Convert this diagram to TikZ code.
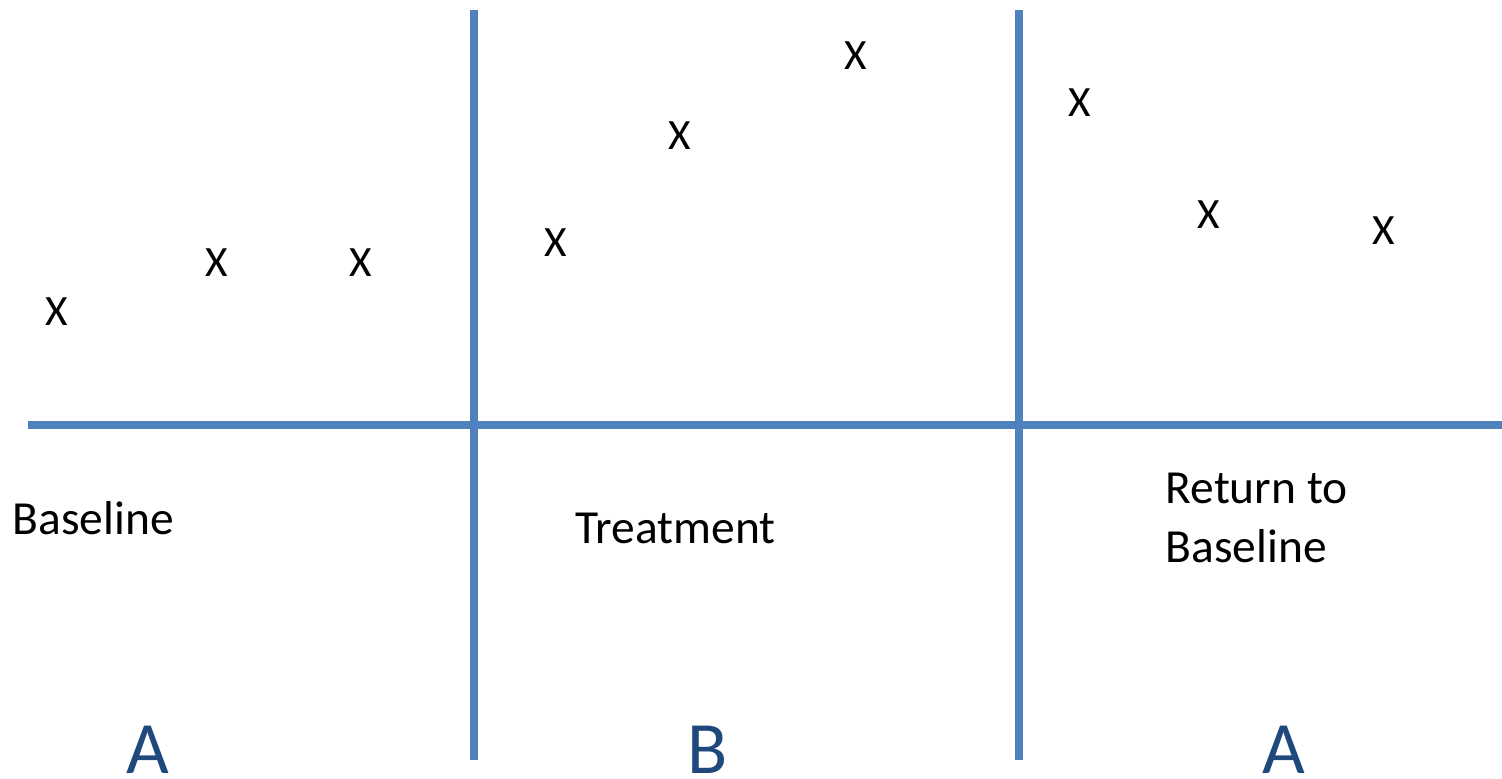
\documentclass[tikz,border=0pt]{standalone}
\usepackage{fontspec}
\setmainfont{Carlito}
\usepackage{tikz}
\usetikzlibrary{positioning}

\definecolor{axisblue}{RGB}{79,129,189}
\definecolor{phaseblue}{RGB}{31,73,125}

\tikzset{
    axis/.style={draw=axisblue, line width=0.08cm},
    point/.style={font=\fontsize{12.3}{14}\selectfont},
    label/.style={font=\fontsize{13.5}{16.5}\selectfont, inner sep=0pt, anchor=base west, align=left},
    phase/.style={font=\fontsize{21}{24}\selectfont, text=phaseblue, inner sep=0pt, anchor=base}
}

\begin{document}
\begin{tikzpicture}[x=0.01cm, y=-0.01cm]
    \useasboundingbox (0,0) rectangle (1502,778);

    % the axes
    \draw[axis] (28,425) -- (1502,425);
    \draw[axis] (474,10) -- (474,760);
    \draw[axis] (1019,10) -- (1019,760);

    % the data points
    \node[point] (x1) at (57,312) {X};
    \node[point] (x2) at (217,263) {X};
    \node[point] (x3) at (361,263) {X};
    \node[point] (x4) at (556,243) {X};
    \node[point] (x5) at (680,136) {X};
    \node[point] (x6) at (856,56) {X};
    \node[point] (x7) at (1080,103) {X};
    \node[point] (x8) at (1209,215) {X};
    \node[point] (x9) at (1384,231) {X};

    % the phase names
    \node[label] (base) at (12,534) {Baseline};
    \node[label] (treat) at (575,543) {Treatment};
    \node[label] (ret) at (1165,562) {Return to\\Baseline};

    % the phase letters
    \node[phase] (a1) at (148,773) {A};
    \node[phase] (b) at (708,773) {B};
    \node[phase] (a2) at (1284,773) {A};

\end{tikzpicture}
\end{document}
